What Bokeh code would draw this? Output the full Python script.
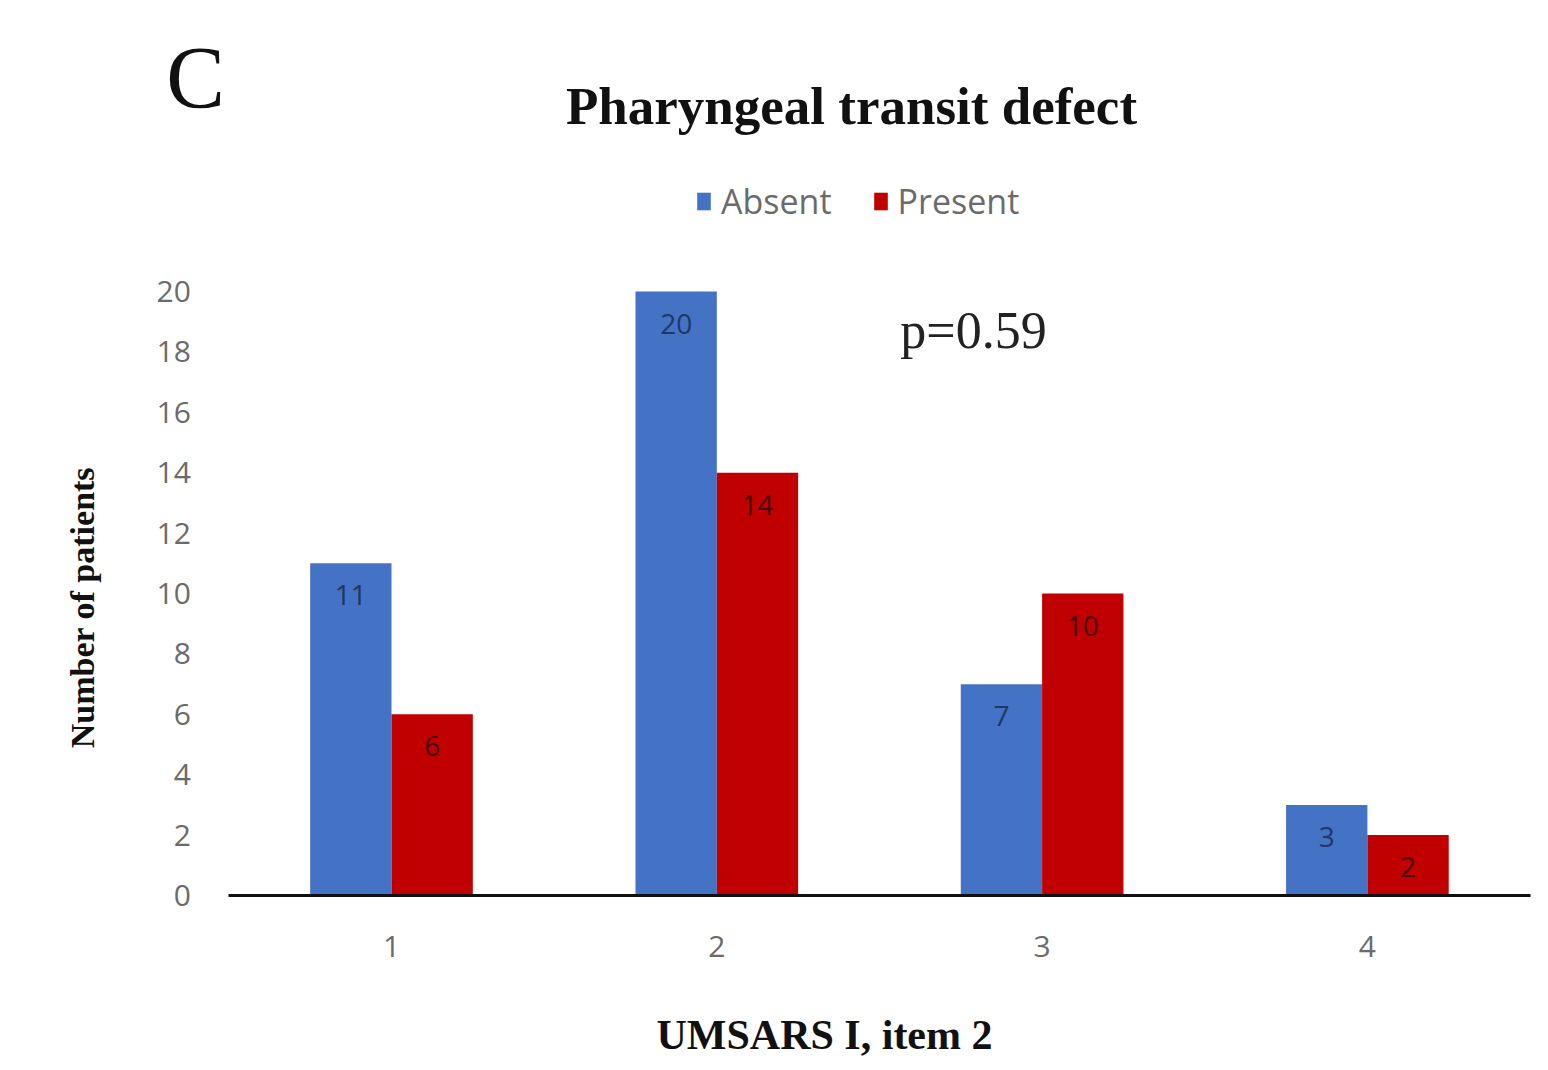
from bokeh.plotting import figure
from bokeh.models import (Range1d, FixedTicker, Label, Legend, LegendItem,
                          ColumnDataSource)
from bokeh.transform import dodge
from bokeh.core.properties import value
from bokeh.embed import file_html
from bokeh.resources import INLINE

# ---- data ----
categories = [1, 2, 3, 4]
absent = [11, 20, 7, 3]
present = [6, 14, 10, 2]
y_ticks = [0, 2, 4, 6, 8, 10, 12, 14, 16, 18, 20]
series_names = ["Absent", "Present"]
title_text = "Pharyngeal transit defect"
panel_letter = "C"
x_title = "UMSARS I, item 2"
y_title = "Number of patients"
p_value_text = "p=0.59"

BLUE = "#4472C4"
RED = "#C00000"

src = ColumnDataSource(dict(
    cat=categories,
    absent=absent,
    present=present,
    absent_lbl=[str(v) for v in absent],
    present_lbl=[str(v) for v in present],
))

# frame covers x 20..1532, y 0..1062 ; value 0 sits at y=895, 20 at y=291
p = figure(width=1540, height=1062, title=None,
           x_range=Range1d(-0.1405, 4.5075),
           y_range=Range1d(-5.53, 29.64),
           output_backend="svg", toolbar_location=None,
           min_border_left=20, min_border_right=8,
           min_border_top=0, min_border_bottom=0)

p.outline_line_color = None
p.xgrid.visible = False
p.ygrid.visible = False
p.background_fill_color = "white"
p.border_fill_color = "white"

r1 = p.vbar(x=dodge("cat", -0.125), top="absent", bottom=0, width=0.25,
            source=src, fill_color=BLUE, line_color=None)
r2 = p.vbar(x=dodge("cat", 0.125), top="present", bottom=0, width=0.25,
            source=src, fill_color=RED, line_color=None)

p.text(x=dodge("cat", -0.125), y="absent", text="absent_lbl",
       source=src, text_align="center", text_baseline="top", y_offset=22,
       text_font=value("Open Sans"), text_font_size="28px", text_color="#1F3864")
p.text(x=dodge("cat", 0.125), y="present", text="present_lbl",
       source=src, text_align="center", text_baseline="top", y_offset=22,
       text_font=value("Open Sans"), text_font_size="28px", text_color="#4a0000")

# x axis drawn at value 0
xa = p.xaxis[0]
xa.fixed_location = 0
xa.ticker = FixedTicker(ticks=categories)
xa.bounds = (0.5, 4.5)
xa.axis_line_color = "#111111"
xa.axis_line_width = 3
xa.major_tick_line_color = None
xa.minor_tick_line_color = None
xa.major_tick_in = 0
xa.major_tick_out = 0
xa.major_label_standoff = 40
xa.major_label_text_font = "Open Sans"
xa.major_label_text_font_size = "30px"
xa.major_label_text_color = "#6b6b6b"

# y axis drawn at the start of the x axis line
ya = p.yaxis[0]
ya.fixed_location = 0.5
ya.ticker = FixedTicker(ticks=y_ticks)
ya.axis_line_color = None
ya.major_tick_line_color = None
ya.minor_tick_line_color = None
ya.major_tick_in = 0
ya.major_tick_out = 0
ya.major_label_standoff = 38
ya.major_label_text_font = "Open Sans"
ya.major_label_text_font_size = "30px"
ya.major_label_text_color = "#6b6b6b"

# legend
legend = Legend(items=[LegendItem(label=series_names[0], renderers=[r1]),
                       LegendItem(label=series_names[1], renderers=[r2])],
                orientation="horizontal", location=(675, 838),
                padding=0, margin=0, spacing=40,
                glyph_width=17, glyph_height=22, label_height=22,
                label_standoff=9,
                label_text_font="Open Sans", label_text_font_size="34px",
                label_text_color="#6b6b6b",
                border_line_color=None, background_fill_alpha=0)
p.add_layout(legend)

# texts (screen units relative to frame bottom-left: x = px - 20, y = 1062 - py)
p.add_layout(Label(x=831, y=957, x_units="screen", y_units="screen",
                   text=title_text, text_align="center", text_baseline="middle",
                   text_font="Liberation Serif", text_font_style="bold",
                   text_font_size="53px", text_color="#111111"))
p.add_layout(Label(x=175, y=985, x_units="screen", y_units="screen",
                   text=panel_letter, text_align="center", text_baseline="middle",
                   text_font="Liberation Serif", text_font_size="88px",
                   text_color="#111111"))
p.add_layout(Label(x=62, y=455, x_units="screen", y_units="screen",
                   text=y_title, text_align="center", text_baseline="middle",
                   angle=1.5708,
                   text_font="Liberation Serif", text_font_style="bold",
                   text_font_size="34px", text_color="#111111"))
p.add_layout(Label(x=953, y=732, x_units="screen", y_units="screen",
                   text=p_value_text, text_align="center", text_baseline="middle",
                   text_font="Liberation Serif", text_font_size="52px",
                   text_color="#222222"))
p.add_layout(Label(x=804, y=28, x_units="screen", y_units="screen",
                   text=x_title, text_align="center", text_baseline="alphabetic",
                   text_font="Liberation Serif", text_font_style="bold",
                   text_font_size="42px", text_color="#111111"))

open("out.html", "w").write(file_html(p, INLINE))
